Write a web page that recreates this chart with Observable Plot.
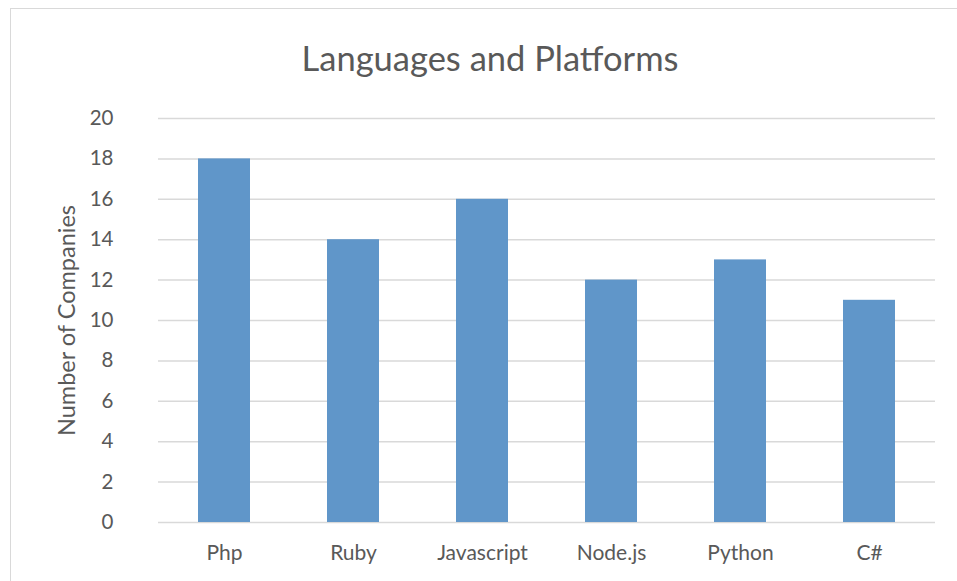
<!DOCTYPE html>
<html>
<head>
<meta charset="utf-8">
<script src="https://cdn.jsdelivr.net/npm/d3@7"></script>
<script src="https://cdn.jsdelivr.net/npm/@observablehq/plot@0.6"></script>
<style>
  html, body { margin: 0; padding: 0; background: #fff; }
  #wrap { position: relative; width: 957px; height: 581px; overflow: hidden; font-family: Lato, "Open Sans", sans-serif; }
  #frame { position: absolute; left: 10px; top: 8px; width: 980px; height: 600px; border: 1.5px solid #d9d9d9; box-sizing: border-box; }
  #title { position: absolute; left: 0; width: 980px; top: 37px; text-align: center; font-size: 34.5px; color: #595959; font-weight: 400; }
  #chart { position: absolute; left: 0; top: 100px; }
</style>
</head>
<body>
<div id="wrap">
  <div id="frame"></div>
  <div id="title">Languages and Platforms</div>
  <div id="chart"></div>
</div>
<script>
const categories = ["Php", "Ruby", "Javascript", "Node.js", "Python", "C#"];
const companies = [18, 14, 16, 12, 13, 11];
const yTicks = [0, 2, 4, 6, 8, 10, 12, 14, 16, 18, 20];
const yLabel = "Number of Companies";

const data = categories.map((c, i) => ({category: c, value: companies[i]}));

const chart = Plot.plot({
  width: 957,
  height: 481,
  marginTop: 18,
  marginBottom: 59,
  marginLeft: 158,
  marginRight: 22,
  style: {fontFamily: "Lato, 'Open Sans', sans-serif", color: "#595959", background: "transparent"},
  x: {domain: categories, paddingInner: 0.6, paddingOuter: 0.3, label: null},
  y: {domain: [0, 20], ticks: yTicks, label: null},
  marks: [
    Plot.ruleY(yTicks, {stroke: "#d9d9d9", strokeWidth: 1.5}),
    Plot.barY(data, {x: "category", y: "value", fill: "#6096c9"}),
    Plot.axisX({tickSize: 0, tickPadding: 23, fontSize: 21, label: null}),
    Plot.axisY({ticks: yTicks, tickSize: 0, tickPadding: 45, fontSize: 20.5, label: null}),
    Plot.text([yLabel], {frameAnchor: "left", textAnchor: "middle", dx: -91, rotate: -90, fontSize: 23.5, fill: "#595959"})
  ]
});
document.getElementById("chart").appendChild(chart);
</script>
</body>
</html>
